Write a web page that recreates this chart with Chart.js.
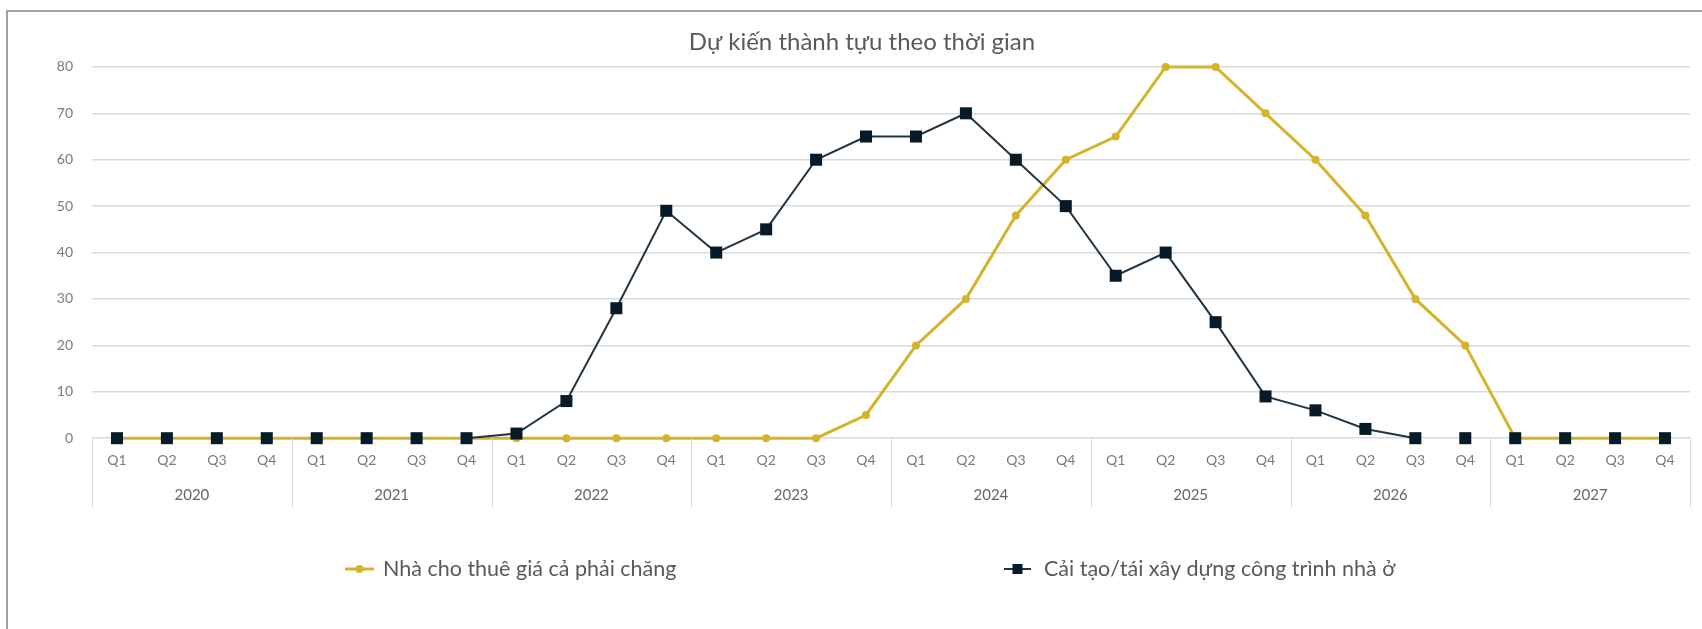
<!DOCTYPE html>
<html>
<head>
<meta charset="utf-8">
<script src="https://cdn.jsdelivr.net/npm/chart.js@4.4.1/dist/chart.umd.min.js"></script>
<style>
body { margin: 0; background: #fff; }
#khung { position: absolute; left: 6px; top: 10px; right: 0; bottom: 0; border-left: 2px solid #a0a0a0; border-top: 2px solid #a0a0a0; }
#bieudo { position: absolute; left: 0; top: 0; }
</style>
</head>
<body>
<div id="khung"></div>
<canvas id="bieudo" width="1702" height="629"></canvas>
<script>
// du lieu
let nam = ['2020', '2021', '2022', '2023', '2024', '2025', '2026', '2027'];
let quy = ['Q1', 'Q2', 'Q3', 'Q4'];
let tenNhaChoThue = 'Nhà cho thuê giá cả phải chăng';
let tenCaiTao = 'Cải tạo/tái xây dựng công trình nhà ở';
let nhaChoThue = [0, 0, 0, 0,  0, 0, 0, 0,  0, 0, 0, 0,  0, 0, 0, 5,
                  20, 30, 48, 60,  65, 80, 80, 70,  60, 48, 30, 20,  0, 0, 0, 0];
let caiTao = [0, 0, 0, 0,  0, 0, 0, 0,  1, 8, 28, 49,  40, 45, 60, 65,
              65, 70, 60, 50,  35, 40, 25, 9,  6, 2, 0, 0,  0, 0, 0, 0];

// nhan quy cho tung nam
let nhanQuy = [];
nam.forEach(() => quy.forEach(q => nhanQuy.push(q)));

const mauVang = '#d3b42c';
const mauXanh = '#223543';
const mauDiem = '#071a28';
const mauChu = '#595959';
const mauLuoi = '#dadada';
const font = 'Lato, "Open Sans", sans-serif';

// duong ke phan cach cac nam duoi truc x
const vachNam = {
    id: 'vachNam',
    afterDraw(chart) {
        const x = chart.scales.x;
        const ctx = chart.ctx;
        const day = chart.scales.x2.bottom;
        ctx.save();
        ctx.strokeStyle = mauLuoi;
        ctx.lineWidth = 1;
        for (let i = 0; i <= nhanQuy.length; i += quy.length) {
            let px;
            if (i === 0) px = x.left;
            else if (i === nhanQuy.length) px = x.right;
            else px = (x.getPixelForValue(i - 1) + x.getPixelForValue(i)) / 2;
            px = Math.round(px) + 0.5;
            ctx.beginPath();
            ctx.moveTo(px, chart.chartArea.bottom);
            ctx.lineTo(px, day);
            ctx.stroke();
        }
        ctx.restore();
    }
};

// chu thich hai ben
const chuThich = {
    id: 'chuThich',
    afterDraw(chart) {
        const ctx = chart.ctx;
        const y = 569;
        const viTri = [
            { tu: 345, den: 374, chu: 383 },
            { tu: 1004, den: 1031, chu: 1044 }
        ];
        ctx.save();
        chart.data.datasets.forEach((ds, i) => {
            const v = viTri[i];
            const giua = (v.tu + v.den) / 2;
            ctx.strokeStyle = ds.borderColor;
            ctx.lineWidth = ds.borderWidth;
            ctx.beginPath();
            ctx.moveTo(v.tu, y);
            ctx.lineTo(v.den, y);
            ctx.stroke();
            ctx.fillStyle = ds.pointBackgroundColor;
            if (ds.pointStyle === 'rect') {
                ctx.fillRect(giua - 5, y - 5, 10, 10);
            } else {
                ctx.beginPath();
                ctx.arc(giua, y, 4, 0, Math.PI * 2);
                ctx.fill();
            }
            ctx.fillStyle = mauChu;
            ctx.font = '21.5px ' + font;
            ctx.textBaseline = 'middle';
            ctx.textAlign = 'left';
            ctx.fillText(ds.label, v.chu, y);
        });
        ctx.restore();
    }
};

let bieuDo = new Chart(document.getElementById('bieudo'), {
    type: 'line',
    data: {
        labels: nhanQuy,
        datasets: [{
            label: tenNhaChoThue,
            data: nhaChoThue,
            borderColor: mauVang,
            backgroundColor: mauVang,
            borderWidth: 3,
            pointStyle: 'circle',
            pointRadius: 4,
            pointBackgroundColor: mauVang,
            pointBorderColor: mauVang,
            pointBorderWidth: 0,
            order: 2,
            clip: false
        }, {
            label: tenCaiTao,
            data: caiTao,
            borderColor: mauXanh,
            backgroundColor: mauDiem,
            borderWidth: 2,
            pointStyle: 'rect',
            pointRadius: 8.5,
            pointBackgroundColor: mauDiem,
            pointBorderColor: mauDiem,
            pointBorderWidth: 0,
            order: 1,
            clip: false,
            // khong ve doan nam sat truc 0
            segment: {
                borderColor: c => (c.p0.parsed.y === 0 && c.p1.parsed.y === 0) ? 'rgba(0,0,0,0)' : undefined
            }
        }]
    },
    options: {
        responsive: false,
        animation: false,
        layout: { padding: { top: 0, right: 12, bottom: 122, left: 34 } },
        plugins: {
            legend: { display: false },
            tooltip: { enabled: false },
            title: {
                display: true,
                text: 'Dự kiến thành tựu theo thời gian',
                color: mauChu,
                font: { family: font, size: 24, weight: 'normal' },
                padding: { top: 27.5, bottom: 10.6 }
            }
        },
        scales: {
            x: {
                offset: true,
                grid: { display: false },
                border: { display: false },
                ticks: {
                    color: '#7a7a7a',
                    font: { family: font, size: 14 },
                    padding: 6,
                    maxRotation: 0,
                    autoSkip: false
                }
            },
            x2: {
                type: 'category',
                position: 'bottom',
                labels: nam,
                offset: true,
                grid: { display: false },
                border: { display: false },
                ticks: {
                    color: '#666666',
                    font: { family: font, size: 15 },
                    padding: 3,
                    maxRotation: 0
                }
            },
            y: {
                min: 0,
                max: 80,
                afterFit: s => { s.width = 58; },
                grid: { color: mauLuoi, lineWidth: 1.5, drawTicks: false },
                border: { display: false },
                ticks: {
                    stepSize: 10,
                    color: '#7a7a7a',
                    font: { family: font, size: 14 },
                    padding: 19
                }
            }
        }
    },
    plugins: [vachNam, chuThich]
});
</script>
</body>
</html>
